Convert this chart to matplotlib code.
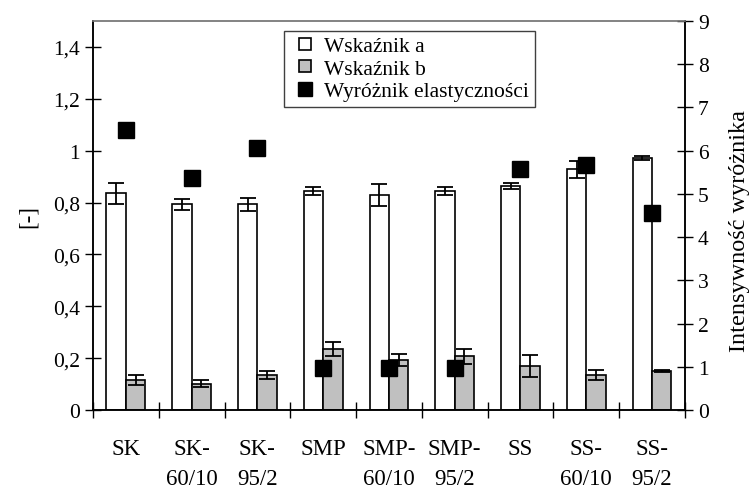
import numpy as np
import matplotlib.pyplot as plt
from matplotlib.lines import Line2D

plt.rcParams['font.family'] = ['Liberation Serif', 'DejaVu Serif']

# data
categories = ['SK', 'SK-\n60/10', 'SK-\n95/2', 'SMP', 'SMP-\n60/10', 'SMP-\n95/2',
              'SS', 'SS-\n60/10', 'SS-\n95/2']
wsk_a = [0.835, 0.793, 0.793, 0.843, 0.829, 0.843, 0.864, 0.928, 0.972]
wsk_a_err = [0.040, 0.020, 0.026, 0.015, 0.043, 0.015, 0.013, 0.032, 0.008]
wsk_b = [0.116, 0.102, 0.136, 0.236, 0.193, 0.207, 0.171, 0.135, 0.151]
wsk_b_err = [0.020, 0.015, 0.015, 0.026, 0.022, 0.030, 0.043, 0.018, 0.004]
wyroznik = [6.47, 5.36, 6.06, 0.97, 0.97, 0.97, 5.57, 5.66, 4.55]

left_ticks = [0, 0.2, 0.4, 0.6, 0.8, 1.0, 1.2, 1.4]
left_labels = ['0', '0,2', '0,4', '0,6', '0,8', '1', '1,2', '1,4']

x = np.arange(len(categories))
w = 0.295

fig = plt.figure(figsize=(7.53, 4.89), dpi=100)
ax = fig.add_axes([0.1235, 0.1595, 0.786, 0.7955])

ekw = dict(ecolor='black', elinewidth=1.3, capsize=5.5, capthick=1.3)
ax.bar(x - w / 2, wsk_a, w, yerr=wsk_a_err, color='white', edgecolor='black',
       linewidth=1.2, error_kw=ekw, zorder=2)
ax.bar(x + w / 2, wsk_b, w, yerr=wsk_b_err, color='#c0c0c0', edgecolor='black',
       linewidth=1.2, error_kw=ekw, zorder=2)

ax.set_xlim(-0.5, len(categories) - 0.5)
ax.set_ylim(0, 1.5)
ax.set_yticks(left_ticks)
ax.set_yticklabels(left_labels)
ax.set_xticks(np.arange(-0.5, len(categories), 1))
ax.set_xticklabels([])
ax.set_xticks(x, minor=True)
ax.set_xticklabels(categories, minor=True, linespacing=1.58)
ax.tick_params(axis='x', which='major', direction='inout', length=11, width=1)
ax.tick_params(axis='x', which='minor', length=0, pad=20, labelsize=16.5)
ax.tick_params(axis='y', direction='inout', length=11, width=1, labelsize=15.5, pad=4)
ax.set_ylabel('[-]', fontsize=16.5, labelpad=10)

ax2 = ax.twinx()
ax2.plot(x, wyroznik, 's', color='black', ms=11.5, ls='none', zorder=3)
ax2.set_ylim(0, 9)
ax2.set_yticks(range(10))
ax2.tick_params(axis='y', direction='inout', length=11, width=1, labelsize=15.5, pad=4)
fig.text(740 / 753, 1 - 231 / 489, 'Intensywność wyróżnika', rotation=90,
         ha='center', va='center', fontsize=17.5)

for a in (ax, ax2):
    for s in ('left', 'right', 'bottom'):
        a.spines[s].set_color('black')
        a.spines[s].set_linewidth(1.1)
    a.spines['top'].set_color('#808080')
    a.spines['top'].set_linewidth(1.1)

handles = [Line2D([], [], marker='s', mfc='white', mec='black', mew=1.2, ls='none', ms=8),
           Line2D([], [], marker='s', mfc='#c0c0c0', mec='black', mew=1.2, ls='none', ms=8),
           Line2D([], [], marker='s', color='black', ls='none', ms=10.5)]
labels = ['Wskaźnik a', 'Wskaźnik b', 'Wyróżnik elastyczności']
leg = ax2.legend(handles, labels, loc='upper left', bbox_to_anchor=(0.322, 0.975),
                 fontsize=15.5, frameon=True, fancybox=False, edgecolor='#404040',
                 framealpha=1, borderpad=0.25, labelspacing=0.12, handlelength=1.5,
                 handletextpad=0.15, borderaxespad=0)
leg.get_frame().set_linewidth(1.0)

fig.savefig('out.png', dpi=100)
